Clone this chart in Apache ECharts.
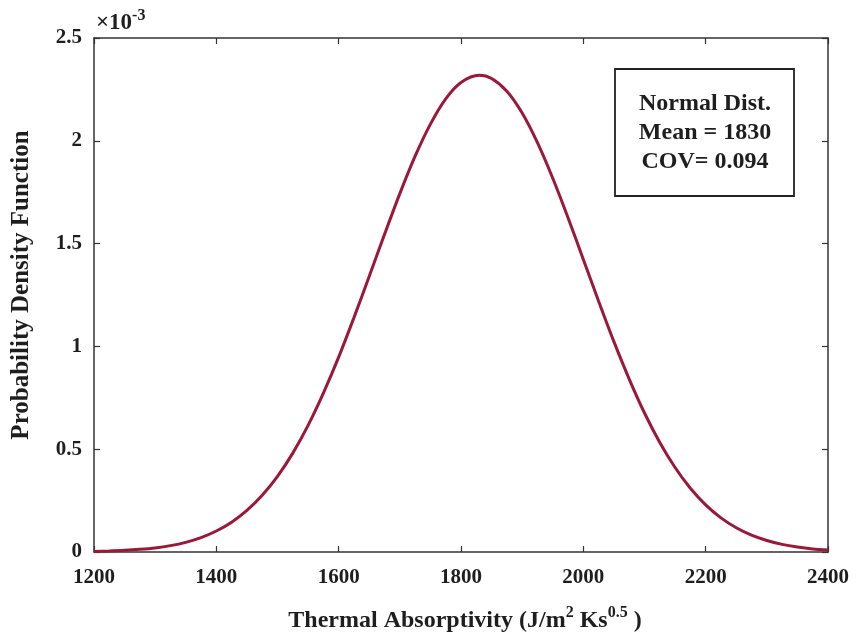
<!DOCTYPE html>
<html lang="en">
<head>
    <meta charset="UTF-8">
    <title>Normal Dist.</title>
    <script src="https://cdn.jsdelivr.net/npm/echarts@6/dist/echarts.min.js"></script>
</head>
<body style="margin:0;background:#fff;">
<div id="myChart" style="width: 857px;height: 639px;"></div>

<script>
    // thermal absorptivity (x) and pdf values (x 1e-3)
    var xData = [1200, 1225, 1250, 1275, 1300, 1325, 1350, 1375, 1400, 1425, 1450, 1475, 1500,
        1525, 1550, 1575, 1600, 1625, 1650, 1675, 1700, 1725, 1750, 1775, 1800, 1830, 1850,
        1875, 1900, 1925, 1950, 1975, 2000, 2025, 2050, 2075, 2100, 2125, 2150, 2175, 2200,
        2225, 2250, 2275, 2300, 2325, 2350, 2375, 2400];
    var pdfData = [0.003, 0.005, 0.008, 0.013, 0.020, 0.031, 0.047, 0.070, 0.102, 0.145, 0.202, 0.276, 0.368,
        0.481, 0.616, 0.773, 0.948, 1.140, 1.341, 1.545, 1.743, 1.925, 2.081, 2.204, 2.284, 2.319, 2.303,
        2.241, 2.135, 1.991, 1.818, 1.626, 1.423, 1.220, 1.023, 0.841, 0.676, 0.533, 0.411, 0.310, 0.229,
        0.166, 0.118, 0.082, 0.056, 0.037, 0.024, 0.015, 0.010];
    var xTicks = [1200, 1400, 1600, 1800, 2000, 2200, 2400];
    var yTicks = [0, 0.5, 1, 1.5, 2, 2.5];
    var infoLines = ['Normal Dist.', 'Mean = 1830', 'COV= 0.094'];

    var font = 'Liberation Serif, Times New Roman, serif';
    var lineCol = '#333';
    var txtCol = '#1e1e1e';

    var points = [];
    for (var i = 0; i < xData.length; i++) {
        points.push([xData[i], pdfData[i]]);
    }

    var myChart = echarts.init(document.getElementById('myChart'));

    function xAx(pos, show) {
        return {
            type: 'value', position: pos, min: 1200, max: 2400, interval: 200,
            axisLine: {show: true, onZero: false, lineStyle: {color: lineCol, width: 1.5}},
            axisTick: {show: true, inside: true, length: 6, lineStyle: {color: lineCol, width: 1.2}},
            axisLabel: {
                show: show, margin: 15, color: txtCol, fontFamily: font, fontWeight: 'bold', fontSize: 21,
                formatter: function (v) { return xTicks.indexOf(v) >= 0 ? String(v) : ''; }
            },
            splitLine: {show: false}
        };
    }

    function yAx(pos, show) {
        return {
            type: 'value', position: pos, min: 0, max: 2.5, interval: 0.5,
            axisLine: {show: true, onZero: false, lineStyle: {color: lineCol, width: 1.5}},
            axisTick: {show: true, inside: true, length: 6, lineStyle: {color: lineCol, width: 1.2}},
            axisLabel: {
                show: show, margin: 12, color: txtCol, fontFamily: font, fontWeight: 'bold', fontSize: 21,
                formatter: function (v) { return yTicks.indexOf(v) >= 0 ? String(v) : ''; }
            },
            splitLine: {show: false}
        };
    }

    var option = {
        backgroundColor: '#fff',
        animation: false,
        grid: {left: 94, right: 29, top: 38, bottom: 87, containLabel: false},
        xAxis: [xAx('bottom', true), xAx('top', false)],
        yAxis: [yAx('left', true), yAx('right', false)],
        series: [{
            type: 'line',
            data: points,
            smooth: 0.3,
            showSymbol: false,
            lineStyle: {color: '#9b1838', width: 3}
        }],
        graphic: [
            {
                type: 'text', left: 96, top: 8,
                style: {
                    text: '{a|×10}{s|-3}',
                    rich: {
                        a: {fontFamily: font, fontSize: 23, fontWeight: 'bold', fill: txtCol, lineHeight: 24, verticalAlign: 'bottom'},
                        s: {fontFamily: font, fontSize: 16, fontWeight: 'bold', fill: txtCol, lineHeight: 16, padding: [0, 0, 11, 0], verticalAlign: 'bottom'}
                    }
                }
            },
            {
                type: 'rect', shape: {x: 615, y: 69, width: 179, height: 127},
                style: {fill: '#fff', stroke: '#222', lineWidth: 1.8}
            },
            {
                type: 'text', x: 705, y: 133,
                style: {
                    text: infoLines.join('\n'), fill: txtCol, align: 'center', verticalAlign: 'middle',
                    fontFamily: font, fontSize: 24, fontWeight: 'bold', lineHeight: 29
                }
            },
            {
                type: 'text', x: 22, y: 285, rotation: Math.PI / 2,
                style: {
                    text: 'Probability Density Function', fill: txtCol, align: 'center', verticalAlign: 'middle',
                    fontFamily: font, fontSize: 25, fontWeight: 'bold'
                }
            },
            {
                type: 'text', x: 465, y: 620,
                style: {
                    text: '{a|Thermal Absorptivity (J/m}{s|2}{a| Ks}{s|0.5}{a| )}',
                    align: 'center', verticalAlign: 'middle',
                    rich: {
                        a: {fontFamily: font, fontSize: 24, fontWeight: 'bold', fill: txtCol, lineHeight: 26, verticalAlign: 'bottom'},
                        s: {fontFamily: font, fontSize: 16, fontWeight: 'bold', fill: txtCol, lineHeight: 16, padding: [0, 0, 12, 0], verticalAlign: 'bottom'}
                    }
                }
            }
        ]
    };

    myChart.setOption(option);
</script>
</body>
</html>
